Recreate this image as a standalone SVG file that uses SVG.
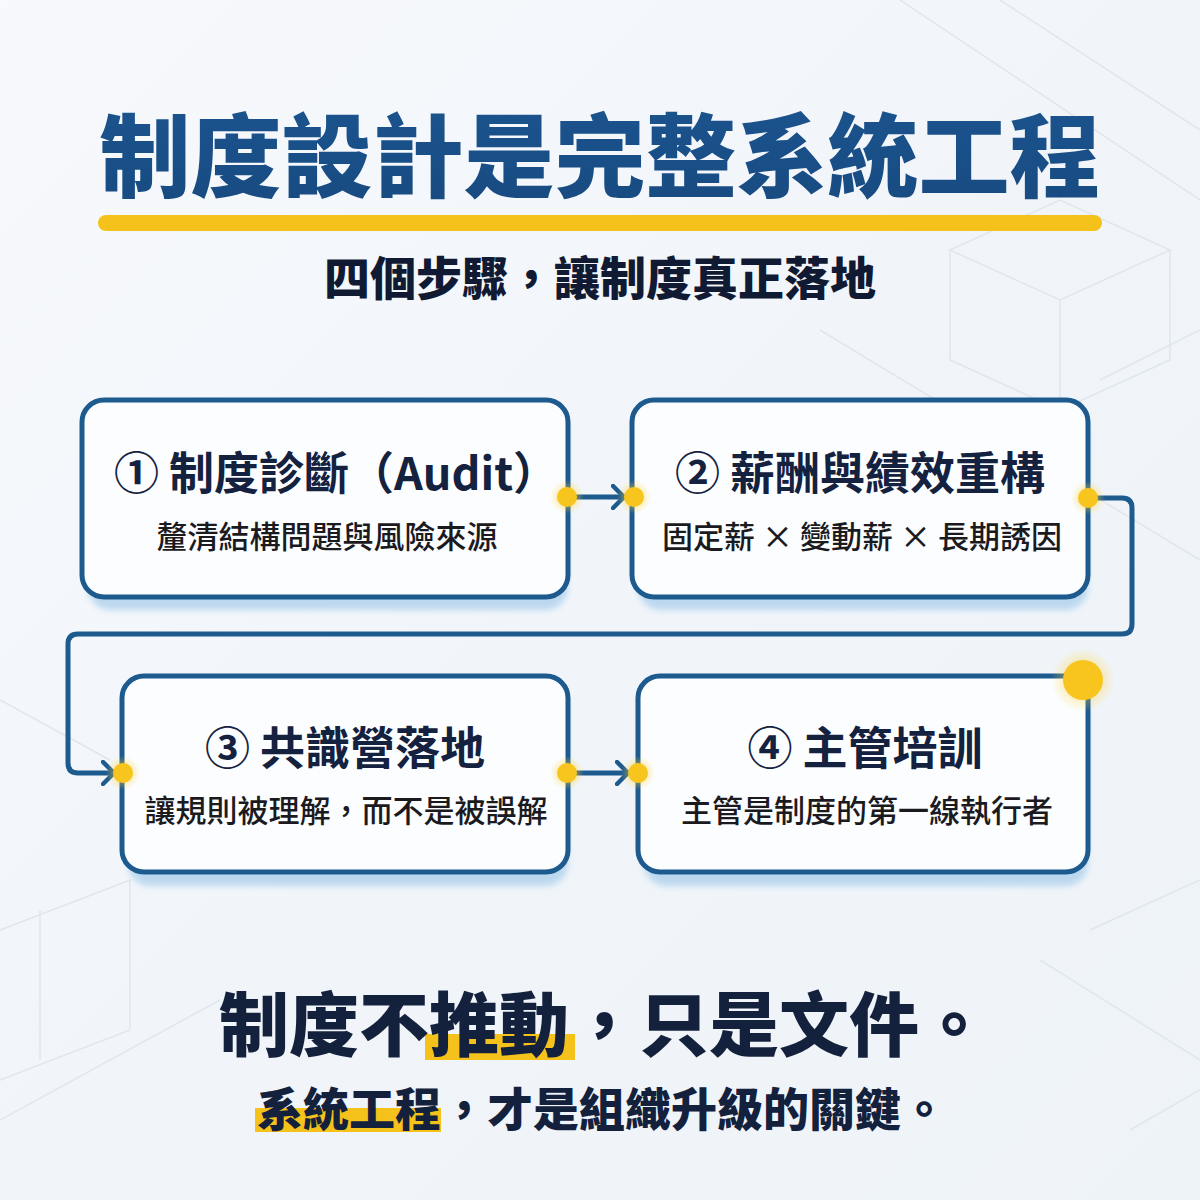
<svg xmlns="http://www.w3.org/2000/svg" width="1200" height="1200" viewBox="0 0 1200 1200">
<defs>
<linearGradient id="bg" x1="0" y1="0" x2="1" y2="1">
<stop offset="0" stop-color="#f7f9fc"/>
<stop offset="0.5" stop-color="#f1f5fa"/>
<stop offset="1" stop-color="#eef3f8"/>
</linearGradient>
<linearGradient id="tg" x1="0" y1="0" x2="0" y2="1">
<stop offset="0" stop-color="#1c5590"/>
<stop offset="1" stop-color="#174a80"/>
</linearGradient>
<radialGradient id="glow">
<stop offset="0" stop-color="#ffd43a" stop-opacity="0.9"/>
<stop offset="0.55" stop-color="#ffd43a" stop-opacity="0.35"/>
<stop offset="1" stop-color="#ffd43a" stop-opacity="0"/>
</radialGradient>
<marker id="arr" viewBox="0 0 16 26" refX="13" refY="13" markerWidth="16" markerHeight="26" markerUnits="userSpaceOnUse" orient="auto">
<path d="M2,2 L13,13 L2,24" fill="none" stroke="#1d5a8e" stroke-width="4.5" stroke-linecap="round" stroke-linejoin="round"/>
</marker>
<filter id="soft" x="-10%" y="-10%" width="120%" height="130%">
<feGaussianBlur stdDeviation="3"/>
</filter>
</defs>
<style>
.box{fill:#fbfdff;stroke:#1d5a8e;stroke-width:5}
.shadow{fill:#bcd8ef}
.bt{font-family:"Noto Sans CJK TC","Noto Sans CJK SC",sans-serif;font-weight:700;font-size:45px;fill:#14213f;text-anchor:middle}
.bs{font-family:"Noto Sans CJK TC","Noto Sans CJK SC",sans-serif;font-weight:500;font-size:31px;fill:#1b1b1f;text-anchor:middle}
.conn{fill:none;stroke:#1d5a8e;stroke-width:5;stroke-linejoin:round}
.dot{fill:#f7c51e}
.bgl{fill:none;stroke:#dfe6ee;stroke-width:1.5}
</style>
<rect width="1200" height="1200" fill="url(#bg)"/>
<g id="background">
<path class="bgl" d="M950,250 L1060,200 L1170,250 L1060,300 Z M950,250 L950,360 L1060,410 L1060,300 M1170,250 L1170,360 L1060,410"/>
<path class="bgl" d="M900,0 L1200,200 M1000,0 L1200,130 M820,330 L1200,560 M1100,380 L1200,330"/>
<path class="bgl" d="M0,930 L130,880 L130,1030 L0,1080 M40,910 L40,1060 M0,1120 L220,1000 M0,700 L110,760"/>
<path class="bgl" d="M1090,930 L1200,880 M1040,960 L1200,1060 M1130,1130 L1200,1090"/>
</g>
<g id="title">
<text x="600" y="190" font-family="Noto Sans CJK TC,Noto Sans CJK SC,sans-serif" font-weight="900" font-size="91" fill="url(#tg)" text-anchor="middle">制度設計是完整系統工程</text>
<rect x="98" y="215" width="1004" height="16" rx="8" fill="#f5c21b"/>
<text x="600" y="295" font-family="Noto Sans CJK TC,Noto Sans CJK SC,sans-serif" font-weight="900" font-size="46" fill="#111a33" text-anchor="middle">四個步驟，讓制度真正落地</text>
</g>
<g id="step1">
<rect class="shadow" x="88" y="410" width="480" height="200" rx="22" filter="url(#soft)"/>
<rect class="box" x="82" y="400" width="486" height="197" rx="22"/>
<text class="bt" x="336" y="490">① 制度診斷（Audit）</text>
<text class="bs" x="327" y="548">釐清結構問題與風險來源</text>
</g>
<g id="step2">
<rect class="shadow" x="638" y="410" width="450" height="200" rx="22" filter="url(#soft)"/>
<rect class="box" x="632" y="400" width="456" height="197" rx="22"/>
<text class="bt" x="860" y="490">② 薪酬與績效重構</text>
<text class="bs" x="862" y="548">固定薪 × 變動薪 × 長期誘因</text>
</g>
<g id="step3">
<rect class="shadow" x="128" y="686" width="440" height="200" rx="22" filter="url(#soft)"/>
<rect class="box" x="122" y="676" width="446" height="196" rx="22"/>
<text class="bt" x="345" y="765">③ 共識營落地</text>
<text class="bs" x="346" y="822">讓規則被理解，而不是被誤解</text>
</g>
<g id="step4">
<rect class="shadow" x="644" y="686" width="444" height="200" rx="22" filter="url(#soft)"/>
<rect class="box" x="638" y="676" width="450" height="196" rx="22"/>
<text class="bt" x="865" y="765">④ 主管培訓</text>
<text class="bs" x="867" y="822">主管是制度的第一線執行者</text>
</g>
<g id="connectors">
<path class="conn" d="M568,497 L624,497" marker-end="url(#arr)"/>
<path class="conn" d="M1088,498 L1122,498 Q1132,498 1132,508 L1132,624 Q1132,634 1122,634 L78,634 Q68,634 68,644 L68,763 Q68,773 78,773 L114,773" marker-end="url(#arr)"/>
<path class="conn" d="M568,773 L628,773" marker-end="url(#arr)"/>
<circle cx="567" cy="497" r="17" fill="url(#glow)"/>
<circle class="dot" cx="567" cy="497" r="10"/>
<circle cx="634" cy="497" r="17" fill="url(#glow)"/>
<circle class="dot" cx="634" cy="497" r="10"/>
<circle cx="1088" cy="498" r="17" fill="url(#glow)"/>
<circle class="dot" cx="1088" cy="498" r="10"/>
<circle cx="123" cy="773" r="17" fill="url(#glow)"/>
<circle class="dot" cx="123" cy="773" r="10"/>
<circle cx="567" cy="773" r="17" fill="url(#glow)"/>
<circle class="dot" cx="567" cy="773" r="10"/>
<circle cx="638" cy="773" r="17" fill="url(#glow)"/>
<circle class="dot" cx="638" cy="773" r="10"/>
<circle cx="1083" cy="680" r="32" fill="url(#glow)"/>
<circle class="dot" cx="1083" cy="680" r="20"/>
</g>
<g id="footer">
<rect x="425" y="1034" width="150" height="26" fill="#f5c21b"/>
<text x="604" y="1051" font-family="Noto Sans CJK TC,Noto Sans CJK SC,sans-serif" font-weight="900" font-size="70" fill="#13213d" text-anchor="middle">制度不推動，只是文件。</text>
<rect x="255" y="1108" width="186" height="24" fill="#f5c21b"/>
<text x="602" y="1126" font-family="Noto Sans CJK TC,Noto Sans CJK SC,sans-serif" font-weight="900" font-size="46" fill="#13213d" text-anchor="middle">系統工程，才是組織升級的關鍵。</text>
</g>
</svg>
